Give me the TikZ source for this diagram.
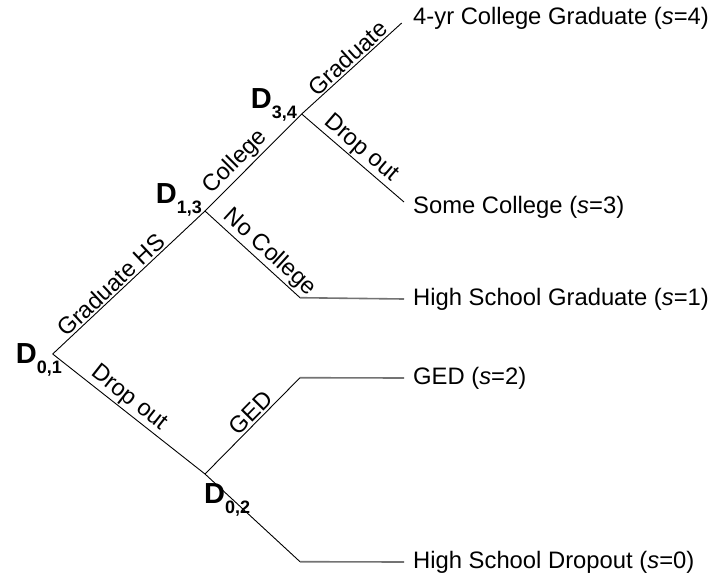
\documentclass[tikz,border=0pt]{standalone}
\usepackage{fontspec}
\setmainfont{Liberation Sans}
\usetikzlibrary{positioning}
\newcommand{\dlab}[1]{\textbf{D}\raisebox{-10pt}{\fontsize{18}{18}\selectfont\bfseries #1}}
\begin{document}
\begin{tikzpicture}[x=1pt, y=-1pt,
    branch/.style={line width=0.9pt, black},
    tail/.style={line width=1.6pt, black!55},
    lab/.style={font=\fontsize{23.5}{28}\selectfont, sloped, above, inner sep=1.5pt},
    outcome/.style={font=\fontsize{23.8}{28}\selectfont, anchor=west, inner sep=0pt},
    dlabel/.style={font=\fontsize{29}{30}\selectfont, inner sep=0pt}]
      \useasboundingbox (0,0) rectangle (719,582);
      \coordinate (d01) at (52.7, 354);
      \coordinate (d13) at (205, 211);
      \coordinate (d34) at (301.7, 114);
      \coordinate (d02) at (205, 474);
      \coordinate (g4) at (401.7, 23);
      \coordinate (s3) at (404, 202);
      \coordinate (b1) at (300, 297.7);
      \coordinate (b2) at (300, 377.7);
      \coordinate (b0) at (300, 561.7);
      \node[dlabel, anchor=base east] (D01) at (62, 363) {\dlab{0,1}};
      \node[dlabel, anchor=base east] (D13) at (202, 203.3) {\dlab{1,3}};
      \node[dlabel, anchor=base east] (D34) at (297, 108) {\dlab{3,4}};
      \node[dlabel, anchor=base west] (D02) at (204, 503) {\dlab{0,2}};
      \node[outcome] (s4) at (413, 18) {4-yr College Graduate (\textit{s}=4)};
      \node[outcome] (s3t) at (413, 207) {Some College (\textit{s}=3)};
      \node[outcome] (s1) at (413, 299) {High School Graduate (\textit{s}=1)};
      \node[outcome] (s2) at (413, 378) {GED (\textit{s}=2)};
      \node[outcome] (s0) at (413, 562) {High School Dropout (\textit{s}=0)};
      \draw[branch] (d01) -- node[lab, pos=0.43] {Graduate HS} (d13);
      \draw[branch] (d13) -- node[lab, pos=0.41] {College} (d34);
      \draw[branch] (d34) -- node[lab, pos=0.53] {Graduate} (g4);
      \draw[branch] (d34) -- node[lab, pos=0.5] {Drop out} (s3);
      \draw[branch] (d13) -- node[lab, pos=0.59] {No College} (b1);
      \draw[branch] (d01) -- node[lab, pos=0.45] {Drop out} (d02);
      \draw[branch] (d02) -- node[lab, pos=0.56] {GED} (b2);
      \draw[branch] (d02) -- (b0);
      \draw[tail] (b1) -- (s1.west -| s3);
      \draw[tail] (b2) -- (s2.west -| s3);
      \draw[tail] (b0) -- (s0.west -| s3);
   \end{tikzpicture}
\end{document}
